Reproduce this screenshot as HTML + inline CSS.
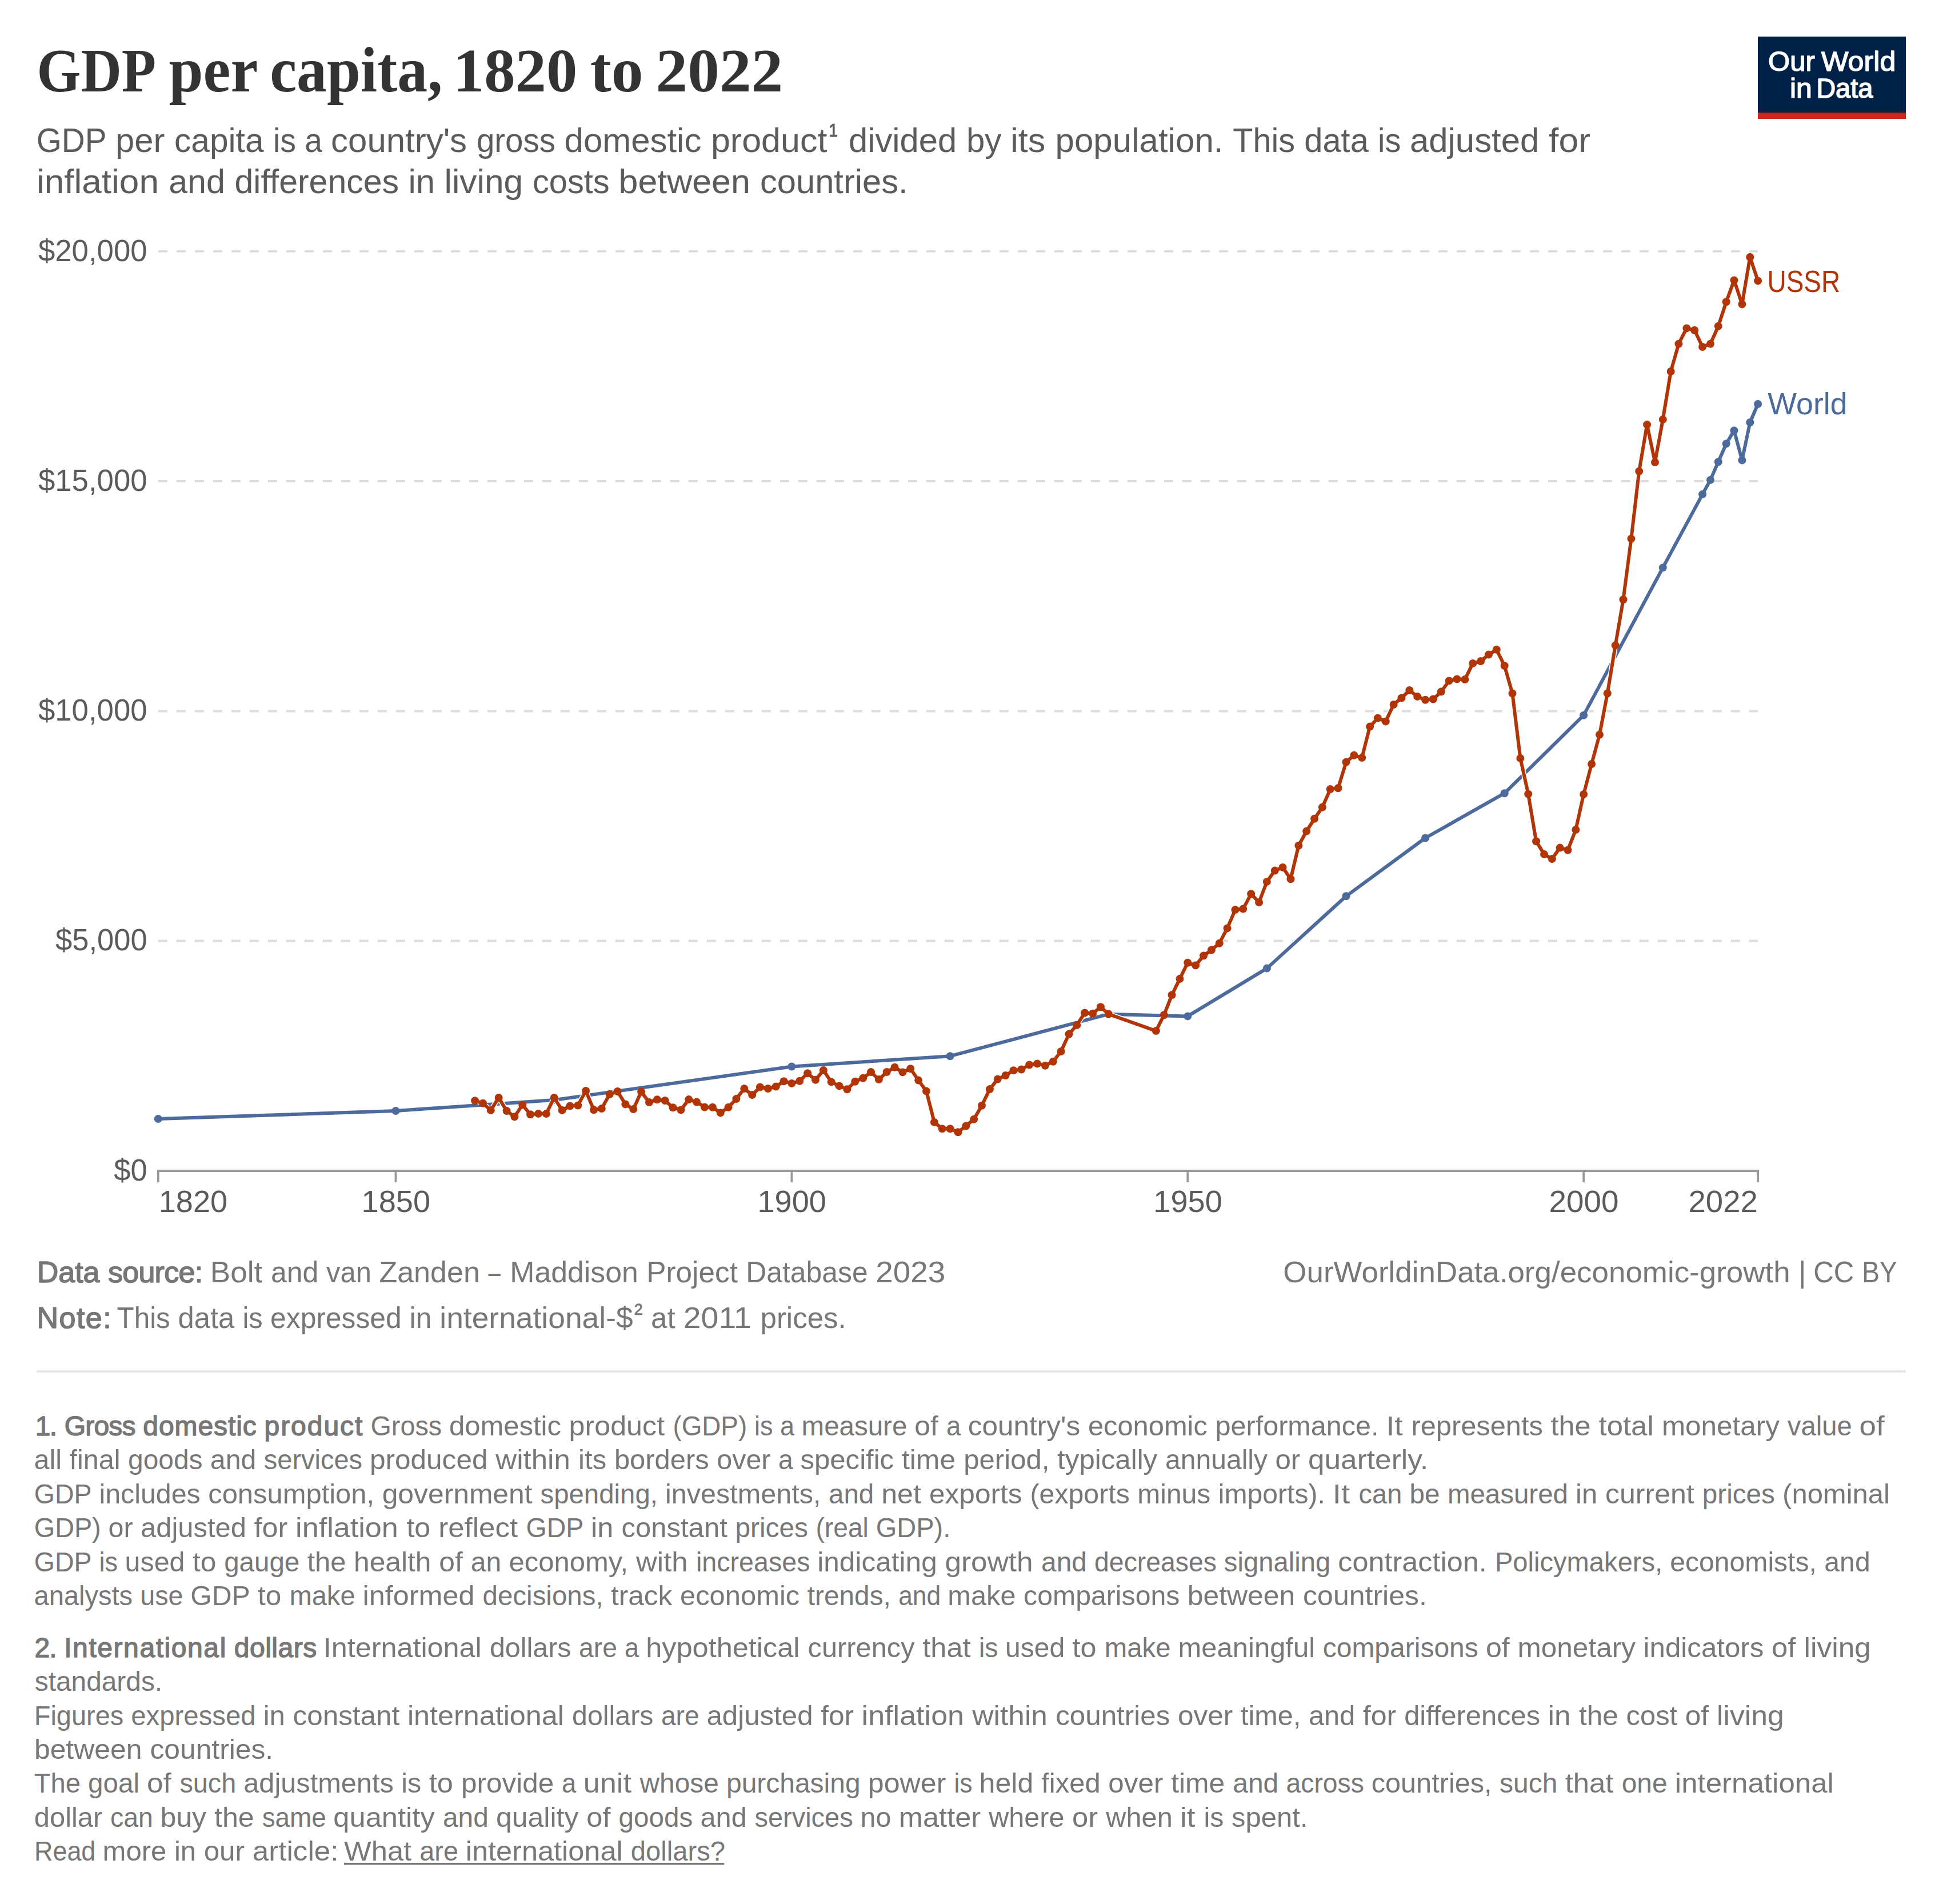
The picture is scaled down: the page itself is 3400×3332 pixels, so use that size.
<!DOCTYPE html>
<html lang="en"><head><meta charset="utf-8"><title>GDP per capita, 1820 to 2022</title>
<style>html,body{margin:0;padding:0;background:#fff}svg{display:block}text{font-family:'Liberation Sans', sans-serif;white-space:pre}text.sf{font-family:'Liberation Serif', serif}</style>
</head><body>
<svg width="3400" height="3332" viewBox="0 0 3400 3332">
<rect width="3400" height="3332" fill="#fff"/>
<text x="64.6" y="160.3" font-size="107" fill="#333" class="sf" textLength="208.5" lengthAdjust="spacingAndGlyphs" font-weight="bold">GDP</text>
<text x="295.6" y="160.3" font-size="113" fill="#333" class="sf" textLength="155.7" lengthAdjust="spacingAndGlyphs" font-weight="bold">per</text>
<text x="472.2" y="160.3" font-size="113" fill="#333" class="sf" textLength="302.3" lengthAdjust="spacingAndGlyphs" font-weight="bold">capita,</text>
<text x="792.9" y="160.3" font-size="107" fill="#333" class="sf" textLength="217.4" lengthAdjust="spacingAndGlyphs" font-weight="bold">1820</text>
<text x="1032.7" y="160.3" font-size="113" fill="#333" class="sf" textLength="92.9" lengthAdjust="spacingAndGlyphs" font-weight="bold">to</text>
<text x="1147.6" y="160.3" font-size="107" fill="#333" class="sf" textLength="222.6" lengthAdjust="spacingAndGlyphs" font-weight="bold">2022</text>
<text x="63.8" y="265.8" font-size="60" fill="#5b5b5b" textLength="122.8" lengthAdjust="spacingAndGlyphs">GDP</text>
<text x="202.1" y="265.8" font-size="60" fill="#5b5b5b" textLength="86.2" lengthAdjust="spacingAndGlyphs">per</text>
<text x="305.0" y="265.8" font-size="60" fill="#5b5b5b" textLength="156.5" lengthAdjust="spacingAndGlyphs">capita</text>
<text x="478.0" y="265.8" font-size="60" fill="#5b5b5b" textLength="39.9" lengthAdjust="spacingAndGlyphs">is</text>
<text x="533.2" y="265.8" font-size="60" fill="#5b5b5b" textLength="30.7" lengthAdjust="spacingAndGlyphs">a</text>
<text x="579.1" y="265.8" font-size="60" fill="#5b5b5b" textLength="238.0" lengthAdjust="spacingAndGlyphs">country's</text>
<text x="833.9" y="265.8" font-size="60" fill="#5b5b5b" textLength="138.1" lengthAdjust="spacingAndGlyphs">gross</text>
<text x="987.6" y="265.8" font-size="60" fill="#5b5b5b" textLength="239.8" lengthAdjust="spacingAndGlyphs">domestic</text>
<text x="1243.9" y="265.8" font-size="60" fill="#5b5b5b" textLength="203.6" lengthAdjust="spacingAndGlyphs">product</text>
<text x="1451.1" y="253.8" font-size="53" fill="#5b5b5b" textLength="14.8" lengthAdjust="spacingAndGlyphs" stroke="#5b5b5b" stroke-width="0.8">¹</text>
<text x="1484.9" y="265.8" font-size="60" fill="#5b5b5b" textLength="189.4" lengthAdjust="spacingAndGlyphs">divided</text>
<text x="1691.0" y="265.8" font-size="60" fill="#5b5b5b" textLength="61.4" lengthAdjust="spacingAndGlyphs">by</text>
<text x="1768.3" y="265.8" font-size="60" fill="#5b5b5b" textLength="61.1" lengthAdjust="spacingAndGlyphs">its</text>
<text x="1846.5" y="265.8" font-size="60" fill="#5b5b5b" textLength="294.0" lengthAdjust="spacingAndGlyphs">population.</text>
<text x="2157.2" y="265.8" font-size="60" fill="#5b5b5b" textLength="108.9" lengthAdjust="spacingAndGlyphs">This</text>
<text x="2282.2" y="265.8" font-size="60" fill="#5b5b5b" textLength="112.7" lengthAdjust="spacingAndGlyphs">data</text>
<text x="2411.1" y="265.8" font-size="60" fill="#5b5b5b" textLength="40.4" lengthAdjust="spacingAndGlyphs">is</text>
<text x="2466.9" y="265.8" font-size="60" fill="#5b5b5b" textLength="226.5" lengthAdjust="spacingAndGlyphs">adjusted</text>
<text x="2710.1" y="265.8" font-size="60" fill="#5b5b5b" textLength="72.9" lengthAdjust="spacingAndGlyphs">for</text>
<text x="64.0" y="337.5" font-size="60" fill="#5b5b5b" textLength="213.9" lengthAdjust="spacingAndGlyphs">inflation</text>
<text x="295.2" y="337.5" font-size="60" fill="#5b5b5b" textLength="98.8" lengthAdjust="spacingAndGlyphs">and</text>
<text x="410.5" y="337.5" font-size="60" fill="#5b5b5b" textLength="287.5" lengthAdjust="spacingAndGlyphs">differences</text>
<text x="714.4" y="337.5" font-size="60" fill="#5b5b5b" textLength="46.5" lengthAdjust="spacingAndGlyphs">in</text>
<text x="777.5" y="337.5" font-size="60" fill="#5b5b5b" textLength="137.5" lengthAdjust="spacingAndGlyphs">living</text>
<text x="931.9" y="337.5" font-size="60" fill="#5b5b5b" textLength="134.8" lengthAdjust="spacingAndGlyphs">costs</text>
<text x="1082.5" y="337.5" font-size="60" fill="#5b5b5b" textLength="230.4" lengthAdjust="spacingAndGlyphs">between</text>
<text x="1329.9" y="337.5" font-size="60" fill="#5b5b5b" textLength="258.8" lengthAdjust="spacingAndGlyphs">countries.</text>
<rect x="3076" y="64" width="259" height="144" fill="#002147"/>
<rect x="3076" y="197" width="259" height="11" fill="#CE261E"/>
<text x="3094.1" y="124.0" font-size="49" fill="#fff" textLength="81.8" lengthAdjust="spacingAndGlyphs" stroke="#fff" stroke-width="1.47" stroke-linejoin="round">Our</text>
<text x="3187.0" y="124.0" font-size="49" fill="#fff" textLength="130.5" lengthAdjust="spacingAndGlyphs" stroke="#fff" stroke-width="1.47" stroke-linejoin="round">World</text>
<text x="3131.9" y="171.0" font-size="49" fill="#fff" textLength="38.9" lengthAdjust="spacingAndGlyphs" stroke="#fff" stroke-width="1.47" stroke-linejoin="round">in</text>
<text x="3178.2" y="171.0" font-size="49" fill="#fff" textLength="99.2" lengthAdjust="spacingAndGlyphs" stroke="#fff" stroke-width="1.47" stroke-linejoin="round">Data</text>
<line x1="276.8" y1="439.8" x2="3076" y2="439.8" stroke="#ddd" stroke-width="4" stroke-dasharray="16 16"/>
<line x1="276.8" y1="842.1" x2="3076" y2="842.1" stroke="#ddd" stroke-width="4" stroke-dasharray="16 16"/>
<line x1="276.8" y1="1244.4" x2="3076" y2="1244.4" stroke="#ddd" stroke-width="4" stroke-dasharray="16 16"/>
<line x1="276.8" y1="1646.6" x2="3076" y2="1646.6" stroke="#ddd" stroke-width="4" stroke-dasharray="16 16"/>
<path d="M275 2049H3078.1" stroke="#999" stroke-width="4" fill="none"/>
<line x1="276.8" y1="2047" x2="276.8" y2="2068.8" stroke="#999" stroke-width="3.8"/>
<line x1="692.5" y1="2047" x2="692.5" y2="2068.8" stroke="#999" stroke-width="3.8"/>
<line x1="1385.4" y1="2047" x2="1385.4" y2="2068.8" stroke="#999" stroke-width="3.8"/>
<line x1="2078.3" y1="2047" x2="2078.3" y2="2068.8" stroke="#999" stroke-width="3.8"/>
<line x1="2771.2" y1="2047" x2="2771.2" y2="2068.8" stroke="#999" stroke-width="3.8"/>
<line x1="3076.1" y1="2047" x2="3076.1" y2="2068.8" stroke="#999" stroke-width="3.8"/>
<text x="66.9" y="456.6" font-size="53" fill="#5b5b5b" textLength="190.7" lengthAdjust="spacingAndGlyphs">$20,000</text>
<text x="66.9" y="858.9" font-size="53" fill="#5b5b5b" textLength="190.7" lengthAdjust="spacingAndGlyphs">$15,000</text>
<text x="66.9" y="1261.2" font-size="53" fill="#5b5b5b" textLength="190.7" lengthAdjust="spacingAndGlyphs">$10,000</text>
<text x="97.0" y="1663.4" font-size="53" fill="#5b5b5b" textLength="160.6" lengthAdjust="spacingAndGlyphs">$5,000</text>
<text x="199.3" y="2065.8" font-size="53" fill="#5b5b5b" textLength="58.3" lengthAdjust="spacingAndGlyphs">$0</text>
<text x="277.8" y="2120.9" font-size="53" fill="#5b5b5b" textLength="120.3" lengthAdjust="spacingAndGlyphs">1820</text>
<text x="632.5" y="2120.9" font-size="53" fill="#5b5b5b" textLength="120.6" lengthAdjust="spacingAndGlyphs">1850</text>
<text x="1325.4" y="2120.9" font-size="53" fill="#5b5b5b" textLength="120.6" lengthAdjust="spacingAndGlyphs">1900</text>
<text x="2018.3" y="2120.9" font-size="53" fill="#5b5b5b" textLength="120.6" lengthAdjust="spacingAndGlyphs">1950</text>
<text x="2710.4" y="2120.9" font-size="53" fill="#5b5b5b" textLength="122.0" lengthAdjust="spacingAndGlyphs">2000</text>
<text x="2954.5" y="2120.9" font-size="53" fill="#5b5b5b" textLength="121.3" lengthAdjust="spacingAndGlyphs">2022</text>
<polyline points="276.8,1958.0 692.5,1944.0 969.7,1925.0 1385.4,1866.5 1662.6,1848.2 1939.8,1774.7 2078.3,1778.4 2216.9,1694.6 2355.5,1568.3 2494.1,1466.5 2632.7,1388.2 2771.2,1251.7 2909.8,993.4 2979.1,865.1 2993.0,839.9 3006.8,808.3 3020.7,776.5 3034.5,753.4 3048.4,805.4 3062.3,739.3 3076.1,707.0" fill="none" stroke="#fff" stroke-width="9" stroke-linejoin="round" stroke-linecap="round"/>
<polyline points="276.8,1958.0 692.5,1944.0 969.7,1925.0 1385.4,1866.5 1662.6,1848.2 1939.8,1774.7 2078.3,1778.4 2216.9,1694.6 2355.5,1568.3 2494.1,1466.5 2632.7,1388.2 2771.2,1251.7 2909.8,993.4 2979.1,865.1 2993.0,839.9 3006.8,808.3 3020.7,776.5 3034.5,753.4 3048.4,805.4 3062.3,739.3 3076.1,707.0" fill="none" stroke="#4C6A9C" stroke-width="6" stroke-linejoin="round" stroke-linecap="round"/>
<g fill="#4C6A9C"><circle cx="276.8" cy="1958.0" r="7"/><circle cx="692.5" cy="1944.0" r="7"/><circle cx="969.7" cy="1925.0" r="7"/><circle cx="1385.4" cy="1866.5" r="7"/><circle cx="1662.6" cy="1848.2" r="7"/><circle cx="1939.8" cy="1774.7" r="7"/><circle cx="2078.3" cy="1778.4" r="7"/><circle cx="2216.9" cy="1694.6" r="7"/><circle cx="2355.5" cy="1568.3" r="7"/><circle cx="2494.1" cy="1466.5" r="7"/><circle cx="2632.7" cy="1388.2" r="7"/><circle cx="2771.2" cy="1251.7" r="7"/><circle cx="2909.8" cy="993.4" r="7"/><circle cx="2979.1" cy="865.1" r="7"/><circle cx="2993.0" cy="839.9" r="7"/><circle cx="3006.8" cy="808.3" r="7"/><circle cx="3020.7" cy="776.5" r="7"/><circle cx="3034.5" cy="753.4" r="7"/><circle cx="3048.4" cy="805.4" r="7"/><circle cx="3062.3" cy="739.3" r="7"/><circle cx="3076.1" cy="707.0" r="7"/></g>
<polyline points="831.1,1926.2 845.0,1930.8 858.8,1942.9 872.7,1920.9 886.6,1944.1 900.4,1954.2 914.3,1933.4 928.1,1950.3 942.0,1948.9 955.8,1949.1 969.7,1920.9 983.6,1942.9 997.4,1935.5 1011.3,1934.5 1025.1,1908.9 1039.0,1942.3 1052.8,1940.0 1066.7,1915.1 1080.6,1910.0 1094.4,1932.4 1108.3,1941.0 1122.1,1910.6 1136.0,1929.1 1149.9,1924.2 1163.7,1926.0 1177.6,1938.2 1191.4,1942.4 1205.3,1924.1 1219.1,1928.6 1233.0,1937.5 1246.9,1937.7 1260.7,1947.4 1274.6,1937.7 1288.4,1923.1 1302.3,1905.0 1316.2,1916.1 1330.0,1902.5 1343.9,1905.0 1357.7,1901.5 1371.6,1892.2 1385.4,1895.9 1399.3,1891.8 1413.2,1878.2 1427.0,1889.7 1440.9,1873.1 1454.7,1893.4 1468.6,1900.4 1482.4,1906.2 1496.3,1892.8 1510.2,1886.8 1524.0,1876.1 1537.9,1889.1 1551.7,1876.1 1565.6,1867.8 1579.5,1876.4 1593.3,1870.3 1607.2,1890.6 1621.0,1909.6 1634.9,1963.9 1648.7,1975.2 1662.6,1975.2 1676.5,1981.2 1690.3,1970.5 1704.2,1958.8 1718.0,1934.7 1731.9,1906.1 1745.7,1888.6 1759.6,1882.0 1773.5,1873.3 1787.3,1871.5 1801.2,1863.5 1815.0,1861.4 1828.9,1864.7 1842.8,1857.7 1856.6,1840.0 1870.5,1809.7 1884.3,1793.9 1898.2,1772.5 1912.0,1773.7 1925.9,1762.3 1939.8,1774.6 2022.9,1804.1 2036.8,1776.3 2050.6,1741.3 2064.5,1712.9 2078.3,1684.7 2092.2,1689.4 2106.1,1672.5 2119.9,1662.5 2133.8,1650.7 2147.6,1624.4 2161.5,1592.1 2175.3,1590.6 2189.2,1564.3 2203.1,1579.0 2216.9,1542.9 2230.8,1523.6 2244.6,1517.9 2258.5,1538.2 2272.4,1479.8 2286.2,1454.6 2300.1,1432.8 2313.9,1412.8 2327.8,1381.1 2341.6,1379.2 2355.5,1333.8 2369.4,1321.8 2383.2,1326.1 2397.1,1271.6 2410.9,1256.7 2424.8,1262.4 2438.6,1233.0 2452.5,1221.4 2466.4,1208.0 2480.2,1218.9 2494.1,1224.8 2507.9,1223.5 2521.8,1210.6 2535.7,1191.4 2549.5,1188.4 2563.4,1189.1 2577.2,1160.9 2591.1,1157.1 2604.9,1145.6 2618.8,1136.8 2632.7,1165.1 2646.5,1213.4 2660.4,1326.9 2674.2,1389.5 2688.1,1472.2 2702.0,1494.9 2715.8,1503.1 2729.7,1483.6 2743.5,1487.7 2757.4,1452.0 2771.2,1389.9 2785.1,1337.0 2799.0,1285.7 2812.8,1213.4 2826.7,1129.4 2840.5,1049.3 2854.4,942.8 2868.2,824.7 2882.1,743.1 2896.0,809.0 2909.8,734.1 2923.7,650.0 2937.5,601.7 2951.4,574.4 2965.3,578.0 2979.1,607.0 2993.0,601.7 3006.8,570.8 3020.7,528.2 3034.5,490.4 3048.4,532.4 3062.3,450.0 3076.1,491.4" fill="none" stroke="#fff" stroke-width="9" stroke-linejoin="round" stroke-linecap="round"/>
<polyline points="831.1,1926.2 845.0,1930.8 858.8,1942.9 872.7,1920.9 886.6,1944.1 900.4,1954.2 914.3,1933.4 928.1,1950.3 942.0,1948.9 955.8,1949.1 969.7,1920.9 983.6,1942.9 997.4,1935.5 1011.3,1934.5 1025.1,1908.9 1039.0,1942.3 1052.8,1940.0 1066.7,1915.1 1080.6,1910.0 1094.4,1932.4 1108.3,1941.0 1122.1,1910.6 1136.0,1929.1 1149.9,1924.2 1163.7,1926.0 1177.6,1938.2 1191.4,1942.4 1205.3,1924.1 1219.1,1928.6 1233.0,1937.5 1246.9,1937.7 1260.7,1947.4 1274.6,1937.7 1288.4,1923.1 1302.3,1905.0 1316.2,1916.1 1330.0,1902.5 1343.9,1905.0 1357.7,1901.5 1371.6,1892.2 1385.4,1895.9 1399.3,1891.8 1413.2,1878.2 1427.0,1889.7 1440.9,1873.1 1454.7,1893.4 1468.6,1900.4 1482.4,1906.2 1496.3,1892.8 1510.2,1886.8 1524.0,1876.1 1537.9,1889.1 1551.7,1876.1 1565.6,1867.8 1579.5,1876.4 1593.3,1870.3 1607.2,1890.6 1621.0,1909.6 1634.9,1963.9 1648.7,1975.2 1662.6,1975.2 1676.5,1981.2 1690.3,1970.5 1704.2,1958.8 1718.0,1934.7 1731.9,1906.1 1745.7,1888.6 1759.6,1882.0 1773.5,1873.3 1787.3,1871.5 1801.2,1863.5 1815.0,1861.4 1828.9,1864.7 1842.8,1857.7 1856.6,1840.0 1870.5,1809.7 1884.3,1793.9 1898.2,1772.5 1912.0,1773.7 1925.9,1762.3 1939.8,1774.6 2022.9,1804.1 2036.8,1776.3 2050.6,1741.3 2064.5,1712.9 2078.3,1684.7 2092.2,1689.4 2106.1,1672.5 2119.9,1662.5 2133.8,1650.7 2147.6,1624.4 2161.5,1592.1 2175.3,1590.6 2189.2,1564.3 2203.1,1579.0 2216.9,1542.9 2230.8,1523.6 2244.6,1517.9 2258.5,1538.2 2272.4,1479.8 2286.2,1454.6 2300.1,1432.8 2313.9,1412.8 2327.8,1381.1 2341.6,1379.2 2355.5,1333.8 2369.4,1321.8 2383.2,1326.1 2397.1,1271.6 2410.9,1256.7 2424.8,1262.4 2438.6,1233.0 2452.5,1221.4 2466.4,1208.0 2480.2,1218.9 2494.1,1224.8 2507.9,1223.5 2521.8,1210.6 2535.7,1191.4 2549.5,1188.4 2563.4,1189.1 2577.2,1160.9 2591.1,1157.1 2604.9,1145.6 2618.8,1136.8 2632.7,1165.1 2646.5,1213.4 2660.4,1326.9 2674.2,1389.5 2688.1,1472.2 2702.0,1494.9 2715.8,1503.1 2729.7,1483.6 2743.5,1487.7 2757.4,1452.0 2771.2,1389.9 2785.1,1337.0 2799.0,1285.7 2812.8,1213.4 2826.7,1129.4 2840.5,1049.3 2854.4,942.8 2868.2,824.7 2882.1,743.1 2896.0,809.0 2909.8,734.1 2923.7,650.0 2937.5,601.7 2951.4,574.4 2965.3,578.0 2979.1,607.0 2993.0,601.7 3006.8,570.8 3020.7,528.2 3034.5,490.4 3048.4,532.4 3062.3,450.0 3076.1,491.4" fill="none" stroke="#B13507" stroke-width="6" stroke-linejoin="round" stroke-linecap="round"/>
<g fill="#B13507"><circle cx="831.1" cy="1926.2" r="7"/><circle cx="845.0" cy="1930.8" r="7"/><circle cx="858.8" cy="1942.9" r="7"/><circle cx="872.7" cy="1920.9" r="7"/><circle cx="886.6" cy="1944.1" r="7"/><circle cx="900.4" cy="1954.2" r="7"/><circle cx="914.3" cy="1933.4" r="7"/><circle cx="928.1" cy="1950.3" r="7"/><circle cx="942.0" cy="1948.9" r="7"/><circle cx="955.8" cy="1949.1" r="7"/><circle cx="969.7" cy="1920.9" r="7"/><circle cx="983.6" cy="1942.9" r="7"/><circle cx="997.4" cy="1935.5" r="7"/><circle cx="1011.3" cy="1934.5" r="7"/><circle cx="1025.1" cy="1908.9" r="7"/><circle cx="1039.0" cy="1942.3" r="7"/><circle cx="1052.8" cy="1940.0" r="7"/><circle cx="1066.7" cy="1915.1" r="7"/><circle cx="1080.6" cy="1910.0" r="7"/><circle cx="1094.4" cy="1932.4" r="7"/><circle cx="1108.3" cy="1941.0" r="7"/><circle cx="1122.1" cy="1910.6" r="7"/><circle cx="1136.0" cy="1929.1" r="7"/><circle cx="1149.9" cy="1924.2" r="7"/><circle cx="1163.7" cy="1926.0" r="7"/><circle cx="1177.6" cy="1938.2" r="7"/><circle cx="1191.4" cy="1942.4" r="7"/><circle cx="1205.3" cy="1924.1" r="7"/><circle cx="1219.1" cy="1928.6" r="7"/><circle cx="1233.0" cy="1937.5" r="7"/><circle cx="1246.9" cy="1937.7" r="7"/><circle cx="1260.7" cy="1947.4" r="7"/><circle cx="1274.6" cy="1937.7" r="7"/><circle cx="1288.4" cy="1923.1" r="7"/><circle cx="1302.3" cy="1905.0" r="7"/><circle cx="1316.2" cy="1916.1" r="7"/><circle cx="1330.0" cy="1902.5" r="7"/><circle cx="1343.9" cy="1905.0" r="7"/><circle cx="1357.7" cy="1901.5" r="7"/><circle cx="1371.6" cy="1892.2" r="7"/><circle cx="1385.4" cy="1895.9" r="7"/><circle cx="1399.3" cy="1891.8" r="7"/><circle cx="1413.2" cy="1878.2" r="7"/><circle cx="1427.0" cy="1889.7" r="7"/><circle cx="1440.9" cy="1873.1" r="7"/><circle cx="1454.7" cy="1893.4" r="7"/><circle cx="1468.6" cy="1900.4" r="7"/><circle cx="1482.4" cy="1906.2" r="7"/><circle cx="1496.3" cy="1892.8" r="7"/><circle cx="1510.2" cy="1886.8" r="7"/><circle cx="1524.0" cy="1876.1" r="7"/><circle cx="1537.9" cy="1889.1" r="7"/><circle cx="1551.7" cy="1876.1" r="7"/><circle cx="1565.6" cy="1867.8" r="7"/><circle cx="1579.5" cy="1876.4" r="7"/><circle cx="1593.3" cy="1870.3" r="7"/><circle cx="1607.2" cy="1890.6" r="7"/><circle cx="1621.0" cy="1909.6" r="7"/><circle cx="1634.9" cy="1963.9" r="7"/><circle cx="1648.7" cy="1975.2" r="7"/><circle cx="1662.6" cy="1975.2" r="7"/><circle cx="1676.5" cy="1981.2" r="7"/><circle cx="1690.3" cy="1970.5" r="7"/><circle cx="1704.2" cy="1958.8" r="7"/><circle cx="1718.0" cy="1934.7" r="7"/><circle cx="1731.9" cy="1906.1" r="7"/><circle cx="1745.7" cy="1888.6" r="7"/><circle cx="1759.6" cy="1882.0" r="7"/><circle cx="1773.5" cy="1873.3" r="7"/><circle cx="1787.3" cy="1871.5" r="7"/><circle cx="1801.2" cy="1863.5" r="7"/><circle cx="1815.0" cy="1861.4" r="7"/><circle cx="1828.9" cy="1864.7" r="7"/><circle cx="1842.8" cy="1857.7" r="7"/><circle cx="1856.6" cy="1840.0" r="7"/><circle cx="1870.5" cy="1809.7" r="7"/><circle cx="1884.3" cy="1793.9" r="7"/><circle cx="1898.2" cy="1772.5" r="7"/><circle cx="1912.0" cy="1773.7" r="7"/><circle cx="1925.9" cy="1762.3" r="7"/><circle cx="1939.8" cy="1774.6" r="7"/><circle cx="2022.9" cy="1804.1" r="7"/><circle cx="2036.8" cy="1776.3" r="7"/><circle cx="2050.6" cy="1741.3" r="7"/><circle cx="2064.5" cy="1712.9" r="7"/><circle cx="2078.3" cy="1684.7" r="7"/><circle cx="2092.2" cy="1689.4" r="7"/><circle cx="2106.1" cy="1672.5" r="7"/><circle cx="2119.9" cy="1662.5" r="7"/><circle cx="2133.8" cy="1650.7" r="7"/><circle cx="2147.6" cy="1624.4" r="7"/><circle cx="2161.5" cy="1592.1" r="7"/><circle cx="2175.3" cy="1590.6" r="7"/><circle cx="2189.2" cy="1564.3" r="7"/><circle cx="2203.1" cy="1579.0" r="7"/><circle cx="2216.9" cy="1542.9" r="7"/><circle cx="2230.8" cy="1523.6" r="7"/><circle cx="2244.6" cy="1517.9" r="7"/><circle cx="2258.5" cy="1538.2" r="7"/><circle cx="2272.4" cy="1479.8" r="7"/><circle cx="2286.2" cy="1454.6" r="7"/><circle cx="2300.1" cy="1432.8" r="7"/><circle cx="2313.9" cy="1412.8" r="7"/><circle cx="2327.8" cy="1381.1" r="7"/><circle cx="2341.6" cy="1379.2" r="7"/><circle cx="2355.5" cy="1333.8" r="7"/><circle cx="2369.4" cy="1321.8" r="7"/><circle cx="2383.2" cy="1326.1" r="7"/><circle cx="2397.1" cy="1271.6" r="7"/><circle cx="2410.9" cy="1256.7" r="7"/><circle cx="2424.8" cy="1262.4" r="7"/><circle cx="2438.6" cy="1233.0" r="7"/><circle cx="2452.5" cy="1221.4" r="7"/><circle cx="2466.4" cy="1208.0" r="7"/><circle cx="2480.2" cy="1218.9" r="7"/><circle cx="2494.1" cy="1224.8" r="7"/><circle cx="2507.9" cy="1223.5" r="7"/><circle cx="2521.8" cy="1210.6" r="7"/><circle cx="2535.7" cy="1191.4" r="7"/><circle cx="2549.5" cy="1188.4" r="7"/><circle cx="2563.4" cy="1189.1" r="7"/><circle cx="2577.2" cy="1160.9" r="7"/><circle cx="2591.1" cy="1157.1" r="7"/><circle cx="2604.9" cy="1145.6" r="7"/><circle cx="2618.8" cy="1136.8" r="7"/><circle cx="2632.7" cy="1165.1" r="7"/><circle cx="2646.5" cy="1213.4" r="7"/><circle cx="2660.4" cy="1326.9" r="7"/><circle cx="2674.2" cy="1389.5" r="7"/><circle cx="2688.1" cy="1472.2" r="7"/><circle cx="2702.0" cy="1494.9" r="7"/><circle cx="2715.8" cy="1503.1" r="7"/><circle cx="2729.7" cy="1483.6" r="7"/><circle cx="2743.5" cy="1487.7" r="7"/><circle cx="2757.4" cy="1452.0" r="7"/><circle cx="2771.2" cy="1389.9" r="7"/><circle cx="2785.1" cy="1337.0" r="7"/><circle cx="2799.0" cy="1285.7" r="7"/><circle cx="2812.8" cy="1213.4" r="7"/><circle cx="2826.7" cy="1129.4" r="7"/><circle cx="2840.5" cy="1049.3" r="7"/><circle cx="2854.4" cy="942.8" r="7"/><circle cx="2868.2" cy="824.7" r="7"/><circle cx="2882.1" cy="743.1" r="7"/><circle cx="2896.0" cy="809.0" r="7"/><circle cx="2909.8" cy="734.1" r="7"/><circle cx="2923.7" cy="650.0" r="7"/><circle cx="2937.5" cy="601.7" r="7"/><circle cx="2951.4" cy="574.4" r="7"/><circle cx="2965.3" cy="578.0" r="7"/><circle cx="2979.1" cy="607.0" r="7"/><circle cx="2993.0" cy="601.7" r="7"/><circle cx="3006.8" cy="570.8" r="7"/><circle cx="3020.7" cy="528.2" r="7"/><circle cx="3034.5" cy="490.4" r="7"/><circle cx="3048.4" cy="532.4" r="7"/><circle cx="3062.3" cy="450.0" r="7"/><circle cx="3076.1" cy="491.4" r="7"/></g>
<text x="3092.4" y="510.5" font-size="53" fill="#B13507" textLength="127.9" lengthAdjust="spacingAndGlyphs">USSR</text>
<text x="3093.3" y="725.3" font-size="53" fill="#4C6A9C" textLength="139.4" lengthAdjust="spacingAndGlyphs">World</text>
<text x="64.7" y="2243.7" font-size="52" fill="#777" textLength="109.8" lengthAdjust="spacing" stroke="#777" stroke-width="1.56" stroke-linejoin="round">Data</text>
<text x="189.0" y="2243.7" font-size="52" fill="#777" textLength="166.1" lengthAdjust="spacing" stroke="#777" stroke-width="1.56" stroke-linejoin="round">source:</text>
<text x="367.8" y="2243.7" font-size="52" fill="#777" textLength="91.4" lengthAdjust="spacingAndGlyphs">Bolt</text>
<text x="474.0" y="2243.7" font-size="52" fill="#777" textLength="83.2" lengthAdjust="spacingAndGlyphs">and</text>
<text x="571.1" y="2243.7" font-size="52" fill="#777" textLength="78.8" lengthAdjust="spacingAndGlyphs">van</text>
<text x="663.4" y="2243.7" font-size="52" fill="#777" textLength="176.5" lengthAdjust="spacingAndGlyphs">Zanden</text>
<text x="854.4" y="2243.7" font-size="52" fill="#777" textLength="21.5" lengthAdjust="spacingAndGlyphs">–</text>
<text x="892.3" y="2243.7" font-size="52" fill="#777" textLength="224.5" lengthAdjust="spacingAndGlyphs">Maddison</text>
<text x="1131.2" y="2243.7" font-size="52" fill="#777" textLength="159.7" lengthAdjust="spacingAndGlyphs">Project</text>
<text x="1305.3" y="2243.7" font-size="52" fill="#777" textLength="213.3" lengthAdjust="spacingAndGlyphs">Database</text>
<text x="1532.3" y="2243.7" font-size="52" fill="#777" textLength="122.0" lengthAdjust="spacingAndGlyphs">2023</text>
<text x="64.5" y="2324.0" font-size="52" fill="#777" textLength="130.1" lengthAdjust="spacing" stroke="#777" stroke-width="1.56" stroke-linejoin="round">Note:</text>
<text x="204.5" y="2324.0" font-size="52" fill="#777" textLength="93.3" lengthAdjust="spacingAndGlyphs">This</text>
<text x="311.5" y="2324.0" font-size="52" fill="#777" textLength="98.7" lengthAdjust="spacingAndGlyphs">data</text>
<text x="424.4" y="2324.0" font-size="52" fill="#777" textLength="35.2" lengthAdjust="spacingAndGlyphs">is</text>
<text x="473.1" y="2324.0" font-size="52" fill="#777" textLength="229.5" lengthAdjust="spacingAndGlyphs">expressed</text>
<text x="716.4" y="2324.0" font-size="52" fill="#777" textLength="39.1" lengthAdjust="spacingAndGlyphs">in</text>
<text x="769.3" y="2324.0" font-size="52" fill="#777" textLength="338.3" lengthAdjust="spacingAndGlyphs">international-$</text>
<text x="1110.0" y="2313.6" font-size="46.5" fill="#777" textLength="14.3" lengthAdjust="spacingAndGlyphs" stroke="#777" stroke-width="0.5">²</text>
<text x="1139.0" y="2324.0" font-size="52" fill="#777" textLength="42.7" lengthAdjust="spacingAndGlyphs">at</text>
<text x="1195.8" y="2324.0" font-size="52" fill="#777" textLength="119.1" lengthAdjust="spacingAndGlyphs">2011</text>
<text x="1330.5" y="2324.0" font-size="52" fill="#777" textLength="150.3" lengthAdjust="spacingAndGlyphs">prices.</text>
<text x="2245.3" y="2243.7" font-size="52" fill="#777" textLength="887.3" lengthAdjust="spacingAndGlyphs">OurWorldinData.org/economic-growth</text>
<text x="3147.7" y="2243.7" font-size="52" fill="#777" textLength="12.4" lengthAdjust="spacingAndGlyphs">|</text>
<text x="3173.3" y="2243.7" font-size="52" fill="#777" textLength="71.0" lengthAdjust="spacingAndGlyphs">CC</text>
<text x="3258.2" y="2243.7" font-size="52" fill="#777" textLength="61.4" lengthAdjust="spacingAndGlyphs">BY</text>
<rect x="64" y="2398" width="3271" height="4" fill="#e7e7e7"/>
<text x="61.8" y="2511.9" font-size="48" fill="#777" textLength="38.3" lengthAdjust="spacing" stroke="#777" stroke-width="1.44" stroke-linejoin="round">1.</text>
<text x="112.8" y="2511.9" font-size="48" fill="#777" textLength="124.7" lengthAdjust="spacing" stroke="#777" stroke-width="1.44" stroke-linejoin="round">Gross</text>
<text x="250.3" y="2511.9" font-size="48" fill="#777" textLength="198.5" lengthAdjust="spacing" stroke="#777" stroke-width="1.44" stroke-linejoin="round">domestic</text>
<text x="462.5" y="2511.9" font-size="48" fill="#777" textLength="171.9" lengthAdjust="spacing" stroke="#777" stroke-width="1.44" stroke-linejoin="round">product</text>
<text x="648.5" y="2511.9" font-size="48" fill="#777" textLength="124.7" lengthAdjust="spacingAndGlyphs">Gross</text>
<text x="786.0" y="2511.9" font-size="48" fill="#777" textLength="196.0" lengthAdjust="spacingAndGlyphs">domestic</text>
<text x="995.6" y="2511.9" font-size="48" fill="#777" textLength="167.5" lengthAdjust="spacingAndGlyphs">product</text>
<text x="1177.4" y="2511.9" font-size="48" fill="#777" textLength="129.8" lengthAdjust="spacingAndGlyphs">(GDP)</text>
<text x="1319.9" y="2511.9" font-size="48" fill="#777" textLength="32.6" lengthAdjust="spacingAndGlyphs">is</text>
<text x="1365.1" y="2511.9" font-size="48" fill="#777" textLength="25.1" lengthAdjust="spacingAndGlyphs">a</text>
<text x="1402.6" y="2511.9" font-size="48" fill="#777" textLength="184.7" lengthAdjust="spacingAndGlyphs">measure</text>
<text x="1600.3" y="2511.9" font-size="48" fill="#777" textLength="41.6" lengthAdjust="spacingAndGlyphs">of</text>
<text x="1655.9" y="2511.9" font-size="48" fill="#777" textLength="25.3" lengthAdjust="spacingAndGlyphs">a</text>
<text x="1693.7" y="2511.9" font-size="48" fill="#777" textLength="196.5" lengthAdjust="spacingAndGlyphs">country's</text>
<text x="1903.9" y="2511.9" font-size="48" fill="#777" textLength="209.0" lengthAdjust="spacingAndGlyphs">economic</text>
<text x="2126.5" y="2511.9" font-size="48" fill="#777" textLength="286.1" lengthAdjust="spacingAndGlyphs">performance.</text>
<text x="2425.7" y="2511.9" font-size="48" fill="#777" textLength="29.0" lengthAdjust="spacingAndGlyphs">It</text>
<text x="2469.5" y="2511.9" font-size="48" fill="#777" textLength="230.4" lengthAdjust="spacingAndGlyphs">represents</text>
<text x="2713.4" y="2511.9" font-size="48" fill="#777" textLength="70.1" lengthAdjust="spacingAndGlyphs">the</text>
<text x="2797.5" y="2511.9" font-size="48" fill="#777" textLength="96.2" lengthAdjust="spacingAndGlyphs">total</text>
<text x="2907.9" y="2511.9" font-size="48" fill="#777" textLength="206.1" lengthAdjust="spacingAndGlyphs">monetary</text>
<text x="3127.8" y="2511.9" font-size="48" fill="#777" textLength="112.9" lengthAdjust="spacingAndGlyphs">value</text>
<text x="3253.6" y="2511.9" font-size="48" fill="#777" textLength="44.2" lengthAdjust="spacingAndGlyphs">of</text>
<text x="59.6" y="2571.3" font-size="48" fill="#777" textLength="48.4" lengthAdjust="spacingAndGlyphs">all</text>
<text x="121.4" y="2571.3" font-size="48" fill="#777" textLength="89.1" lengthAdjust="spacingAndGlyphs">final</text>
<text x="224.0" y="2571.3" font-size="48" fill="#777" textLength="130.5" lengthAdjust="spacingAndGlyphs">goods</text>
<text x="367.8" y="2571.3" font-size="48" fill="#777" textLength="80.6" lengthAdjust="spacingAndGlyphs">and</text>
<text x="461.8" y="2571.3" font-size="48" fill="#777" textLength="172.3" lengthAdjust="spacingAndGlyphs">services</text>
<text x="646.9" y="2571.3" font-size="48" fill="#777" textLength="206.6" lengthAdjust="spacingAndGlyphs">produced</text>
<text x="867.3" y="2571.3" font-size="48" fill="#777" textLength="130.5" lengthAdjust="spacingAndGlyphs">within</text>
<text x="1012.1" y="2571.3" font-size="48" fill="#777" textLength="49.1" lengthAdjust="spacingAndGlyphs">its</text>
<text x="1074.9" y="2571.3" font-size="48" fill="#777" textLength="165.8" lengthAdjust="spacingAndGlyphs">borders</text>
<text x="1254.3" y="2571.3" font-size="48" fill="#777" textLength="94.2" lengthAdjust="spacingAndGlyphs">over</text>
<text x="1362.0" y="2571.3" font-size="48" fill="#777" textLength="25.7" lengthAdjust="spacingAndGlyphs">a</text>
<text x="1400.4" y="2571.3" font-size="48" fill="#777" textLength="163.8" lengthAdjust="spacingAndGlyphs">specific</text>
<text x="1577.9" y="2571.3" font-size="48" fill="#777" textLength="94.3" lengthAdjust="spacingAndGlyphs">time</text>
<text x="1686.2" y="2571.3" font-size="48" fill="#777" textLength="150.3" lengthAdjust="spacingAndGlyphs">period,</text>
<text x="1850.1" y="2571.3" font-size="48" fill="#777" textLength="175.1" lengthAdjust="spacingAndGlyphs">typically</text>
<text x="2039.0" y="2571.3" font-size="48" fill="#777" textLength="179.1" lengthAdjust="spacingAndGlyphs">annually</text>
<text x="2231.4" y="2571.3" font-size="48" fill="#777" textLength="43.9" lengthAdjust="spacingAndGlyphs">or</text>
<text x="2288.9" y="2571.3" font-size="48" fill="#777" textLength="210.5" lengthAdjust="spacingAndGlyphs">quarterly.</text>
<text x="59.8" y="2630.7" font-size="48" fill="#777" textLength="100.8" lengthAdjust="spacingAndGlyphs">GDP</text>
<text x="173.4" y="2630.7" font-size="48" fill="#777" textLength="177.4" lengthAdjust="spacingAndGlyphs">includes</text>
<text x="364.2" y="2630.7" font-size="48" fill="#777" textLength="290.9" lengthAdjust="spacingAndGlyphs">consumption,</text>
<text x="668.7" y="2630.7" font-size="48" fill="#777" textLength="262.9" lengthAdjust="spacingAndGlyphs">government</text>
<text x="945.5" y="2630.7" font-size="48" fill="#777" textLength="205.4" lengthAdjust="spacingAndGlyphs">spending,</text>
<text x="1163.9" y="2630.7" font-size="48" fill="#777" textLength="272.6" lengthAdjust="spacingAndGlyphs">investments,</text>
<text x="1450.0" y="2630.7" font-size="48" fill="#777" textLength="79.2" lengthAdjust="spacingAndGlyphs">and</text>
<text x="1542.2" y="2630.7" font-size="48" fill="#777" textLength="69.8" lengthAdjust="spacingAndGlyphs">net</text>
<text x="1626.0" y="2630.7" font-size="48" fill="#777" textLength="162.6" lengthAdjust="spacingAndGlyphs">exports</text>
<text x="1802.5" y="2630.7" font-size="48" fill="#777" textLength="174.3" lengthAdjust="spacingAndGlyphs">(exports</text>
<text x="1990.2" y="2630.7" font-size="48" fill="#777" textLength="128.2" lengthAdjust="spacingAndGlyphs">minus</text>
<text x="2131.8" y="2630.7" font-size="48" fill="#777" textLength="187.1" lengthAdjust="spacingAndGlyphs">imports).</text>
<text x="2331.7" y="2630.7" font-size="48" fill="#777" textLength="30.4" lengthAdjust="spacingAndGlyphs">It</text>
<text x="2377.6" y="2630.7" font-size="48" fill="#777" textLength="75.8" lengthAdjust="spacingAndGlyphs">can</text>
<text x="2466.4" y="2630.7" font-size="48" fill="#777" textLength="53.1" lengthAdjust="spacingAndGlyphs">be</text>
<text x="2532.9" y="2630.7" font-size="48" fill="#777" textLength="211.1" lengthAdjust="spacingAndGlyphs">measured</text>
<text x="2757.1" y="2630.7" font-size="48" fill="#777" textLength="38.2" lengthAdjust="spacingAndGlyphs">in</text>
<text x="2808.9" y="2630.7" font-size="48" fill="#777" textLength="155.9" lengthAdjust="spacingAndGlyphs">current</text>
<text x="2978.8" y="2630.7" font-size="48" fill="#777" textLength="127.1" lengthAdjust="spacingAndGlyphs">prices</text>
<text x="3119.1" y="2630.7" font-size="48" fill="#777" textLength="187.8" lengthAdjust="spacingAndGlyphs">(nominal</text>
<text x="59.8" y="2690.2" font-size="48" fill="#777" textLength="116.8" lengthAdjust="spacingAndGlyphs">GDP)</text>
<text x="189.5" y="2690.2" font-size="48" fill="#777" textLength="43.1" lengthAdjust="spacingAndGlyphs">or</text>
<text x="246.0" y="2690.2" font-size="48" fill="#777" textLength="184.9" lengthAdjust="spacingAndGlyphs">adjusted</text>
<text x="444.5" y="2690.2" font-size="48" fill="#777" textLength="58.7" lengthAdjust="spacingAndGlyphs">for</text>
<text x="517.1" y="2690.2" font-size="48" fill="#777" textLength="179.8" lengthAdjust="spacingAndGlyphs">inflation</text>
<text x="711.4" y="2690.2" font-size="48" fill="#777" textLength="41.9" lengthAdjust="spacingAndGlyphs">to</text>
<text x="767.2" y="2690.2" font-size="48" fill="#777" textLength="138.9" lengthAdjust="spacingAndGlyphs">reflect</text>
<text x="920.6" y="2690.2" font-size="48" fill="#777" textLength="100.8" lengthAdjust="spacingAndGlyphs">GDP</text>
<text x="1034.1" y="2690.2" font-size="48" fill="#777" textLength="39.3" lengthAdjust="spacingAndGlyphs">in</text>
<text x="1087.4" y="2690.2" font-size="48" fill="#777" textLength="185.4" lengthAdjust="spacingAndGlyphs">constant</text>
<text x="1286.5" y="2690.2" font-size="48" fill="#777" textLength="127.5" lengthAdjust="spacingAndGlyphs">prices</text>
<text x="1427.4" y="2690.2" font-size="48" fill="#777" textLength="92.5" lengthAdjust="spacingAndGlyphs">(real</text>
<text x="1532.8" y="2690.2" font-size="48" fill="#777" textLength="130.4" lengthAdjust="spacingAndGlyphs">GDP).</text>
<text x="59.8" y="2749.6" font-size="48" fill="#777" textLength="100.8" lengthAdjust="spacingAndGlyphs">GDP</text>
<text x="173.6" y="2749.6" font-size="48" fill="#777" textLength="32.6" lengthAdjust="spacingAndGlyphs">is</text>
<text x="218.6" y="2749.6" font-size="48" fill="#777" textLength="104.9" lengthAdjust="spacingAndGlyphs">used</text>
<text x="336.9" y="2749.6" font-size="48" fill="#777" textLength="41.4" lengthAdjust="spacingAndGlyphs">to</text>
<text x="392.2" y="2749.6" font-size="48" fill="#777" textLength="132.0" lengthAdjust="spacingAndGlyphs">gauge</text>
<text x="537.4" y="2749.6" font-size="48" fill="#777" textLength="68.1" lengthAdjust="spacingAndGlyphs">the</text>
<text x="619.0" y="2749.6" font-size="48" fill="#777" textLength="135.5" lengthAdjust="spacingAndGlyphs">health</text>
<text x="768.3" y="2749.6" font-size="48" fill="#777" textLength="41.5" lengthAdjust="spacingAndGlyphs">of</text>
<text x="823.7" y="2749.6" font-size="48" fill="#777" textLength="53.4" lengthAdjust="spacingAndGlyphs">an</text>
<text x="890.4" y="2749.6" font-size="48" fill="#777" textLength="208.8" lengthAdjust="spacingAndGlyphs">economy,</text>
<text x="1112.9" y="2749.6" font-size="48" fill="#777" textLength="90.7" lengthAdjust="spacingAndGlyphs">with</text>
<text x="1218.0" y="2749.6" font-size="48" fill="#777" textLength="199.5" lengthAdjust="spacingAndGlyphs">increases</text>
<text x="1430.3" y="2749.6" font-size="48" fill="#777" textLength="209.4" lengthAdjust="spacingAndGlyphs">indicating</text>
<text x="1653.4" y="2749.6" font-size="48" fill="#777" textLength="154.2" lengthAdjust="spacingAndGlyphs">growth</text>
<text x="1822.1" y="2749.6" font-size="48" fill="#777" textLength="79.7" lengthAdjust="spacingAndGlyphs">and</text>
<text x="1915.1" y="2749.6" font-size="48" fill="#777" textLength="213.8" lengthAdjust="spacingAndGlyphs">decreases</text>
<text x="2141.8" y="2749.6" font-size="48" fill="#777" textLength="186.4" lengthAdjust="spacingAndGlyphs">signaling</text>
<text x="2341.2" y="2749.6" font-size="48" fill="#777" textLength="260.5" lengthAdjust="spacingAndGlyphs">contraction.</text>
<text x="2615.9" y="2749.6" font-size="48" fill="#777" textLength="293.3" lengthAdjust="spacingAndGlyphs">Policymakers,</text>
<text x="2922.3" y="2749.6" font-size="48" fill="#777" textLength="256.6" lengthAdjust="spacingAndGlyphs">economists,</text>
<text x="3192.3" y="2749.6" font-size="48" fill="#777" textLength="80.4" lengthAdjust="spacingAndGlyphs">and</text>
<text x="59.6" y="2809.0" font-size="48" fill="#777" textLength="172.5" lengthAdjust="spacingAndGlyphs">analysts</text>
<text x="245.2" y="2809.0" font-size="48" fill="#777" textLength="75.2" lengthAdjust="spacingAndGlyphs">use</text>
<text x="333.3" y="2809.0" font-size="48" fill="#777" textLength="104.4" lengthAdjust="spacingAndGlyphs">GDP</text>
<text x="451.1" y="2809.0" font-size="48" fill="#777" textLength="41.3" lengthAdjust="spacingAndGlyphs">to</text>
<text x="506.4" y="2809.0" font-size="48" fill="#777" textLength="115.2" lengthAdjust="spacingAndGlyphs">make</text>
<text x="634.5" y="2809.0" font-size="48" fill="#777" textLength="195.9" lengthAdjust="spacingAndGlyphs">informed</text>
<text x="844.5" y="2809.0" font-size="48" fill="#777" textLength="211.2" lengthAdjust="spacingAndGlyphs">decisions,</text>
<text x="1068.9" y="2809.0" font-size="48" fill="#777" textLength="107.4" lengthAdjust="spacingAndGlyphs">track</text>
<text x="1190.0" y="2809.0" font-size="48" fill="#777" textLength="209.2" lengthAdjust="spacingAndGlyphs">economic</text>
<text x="1412.8" y="2809.0" font-size="48" fill="#777" textLength="146.0" lengthAdjust="spacingAndGlyphs">trends,</text>
<text x="1572.2" y="2809.0" font-size="48" fill="#777" textLength="74.0" lengthAdjust="spacingAndGlyphs">and</text>
<text x="1658.3" y="2809.0" font-size="48" fill="#777" textLength="119.2" lengthAdjust="spacingAndGlyphs">make</text>
<text x="1791.1" y="2809.0" font-size="48" fill="#777" textLength="273.3" lengthAdjust="spacingAndGlyphs">comparisons</text>
<text x="2077.7" y="2809.0" font-size="48" fill="#777" textLength="188.5" lengthAdjust="spacingAndGlyphs">between</text>
<text x="2280.1" y="2809.0" font-size="48" fill="#777" textLength="216.8" lengthAdjust="spacingAndGlyphs">countries.</text>
<text x="60.5" y="2899.7" font-size="48" fill="#777" textLength="39.1" lengthAdjust="spacing" stroke="#777" stroke-width="1.44" stroke-linejoin="round">2.</text>
<text x="112.2" y="2899.7" font-size="48" fill="#777" textLength="283.1" lengthAdjust="spacing" stroke="#777" stroke-width="1.44" stroke-linejoin="round">International</text>
<text x="409.7" y="2899.7" font-size="48" fill="#777" textLength="144.5" lengthAdjust="spacing" stroke="#777" stroke-width="1.44" stroke-linejoin="round">dollars</text>
<text x="565.7" y="2899.7" font-size="48" fill="#777" textLength="277.1" lengthAdjust="spacingAndGlyphs">International</text>
<text x="856.9" y="2899.7" font-size="48" fill="#777" textLength="142.7" lengthAdjust="spacingAndGlyphs">dollars</text>
<text x="1013.1" y="2899.7" font-size="48" fill="#777" textLength="66.8" lengthAdjust="spacingAndGlyphs">are</text>
<text x="1092.9" y="2899.7" font-size="48" fill="#777" textLength="25.1" lengthAdjust="spacingAndGlyphs">a</text>
<text x="1130.2" y="2899.7" font-size="48" fill="#777" textLength="269.4" lengthAdjust="spacingAndGlyphs">hypothetical</text>
<text x="1413.6" y="2899.7" font-size="48" fill="#777" textLength="187.0" lengthAdjust="spacingAndGlyphs">currency</text>
<text x="1614.2" y="2899.7" font-size="48" fill="#777" textLength="84.4" lengthAdjust="spacingAndGlyphs">that</text>
<text x="1712.9" y="2899.7" font-size="48" fill="#777" textLength="33.4" lengthAdjust="spacingAndGlyphs">is</text>
<text x="1759.1" y="2899.7" font-size="48" fill="#777" textLength="104.2" lengthAdjust="spacingAndGlyphs">used</text>
<text x="1876.6" y="2899.7" font-size="48" fill="#777" textLength="42.0" lengthAdjust="spacingAndGlyphs">to</text>
<text x="1932.8" y="2899.7" font-size="48" fill="#777" textLength="115.7" lengthAdjust="spacingAndGlyphs">make</text>
<text x="2061.5" y="2899.7" font-size="48" fill="#777" textLength="239.6" lengthAdjust="spacingAndGlyphs">meaningful</text>
<text x="2314.7" y="2899.7" font-size="48" fill="#777" textLength="272.1" lengthAdjust="spacingAndGlyphs">comparisons</text>
<text x="2600.0" y="2899.7" font-size="48" fill="#777" textLength="41.7" lengthAdjust="spacingAndGlyphs">of</text>
<text x="2655.6" y="2899.7" font-size="48" fill="#777" textLength="206.3" lengthAdjust="spacingAndGlyphs">monetary</text>
<text x="2875.6" y="2899.7" font-size="48" fill="#777" textLength="210.8" lengthAdjust="spacingAndGlyphs">indicators</text>
<text x="3100.1" y="2899.7" font-size="48" fill="#777" textLength="42.4" lengthAdjust="spacingAndGlyphs">of</text>
<text x="3156.6" y="2899.7" font-size="48" fill="#777" textLength="117.3" lengthAdjust="spacingAndGlyphs">living</text>
<text x="60.8" y="2959.1" font-size="48" fill="#777" textLength="223.3" lengthAdjust="spacingAndGlyphs">standards.</text>
<text x="59.8" y="3018.6" font-size="48" fill="#777" textLength="156.4" lengthAdjust="spacingAndGlyphs">Figures</text>
<text x="229.3" y="3018.6" font-size="48" fill="#777" textLength="218.3" lengthAdjust="spacingAndGlyphs">expressed</text>
<text x="460.7" y="3018.6" font-size="48" fill="#777" textLength="38.2" lengthAdjust="spacingAndGlyphs">in</text>
<text x="512.5" y="3018.6" font-size="48" fill="#777" textLength="186.7" lengthAdjust="spacingAndGlyphs">constant</text>
<text x="712.9" y="3018.6" font-size="48" fill="#777" textLength="274.1" lengthAdjust="spacingAndGlyphs">international</text>
<text x="1001.1" y="3018.6" font-size="48" fill="#777" textLength="142.4" lengthAdjust="spacingAndGlyphs">dollars</text>
<text x="1156.9" y="3018.6" font-size="48" fill="#777" textLength="66.8" lengthAdjust="spacingAndGlyphs">are</text>
<text x="1236.5" y="3018.6" font-size="48" fill="#777" textLength="186.1" lengthAdjust="spacingAndGlyphs">adjusted</text>
<text x="1436.3" y="3018.6" font-size="48" fill="#777" textLength="57.7" lengthAdjust="spacingAndGlyphs">for</text>
<text x="1507.6" y="3018.6" font-size="48" fill="#777" textLength="179.5" lengthAdjust="spacingAndGlyphs">inflation</text>
<text x="1701.5" y="3018.6" font-size="48" fill="#777" textLength="131.4" lengthAdjust="spacingAndGlyphs">within</text>
<text x="1847.2" y="3018.6" font-size="48" fill="#777" textLength="200.1" lengthAdjust="spacingAndGlyphs">countries</text>
<text x="2061.0" y="3018.6" font-size="48" fill="#777" textLength="96.2" lengthAdjust="spacingAndGlyphs">over</text>
<text x="2171.0" y="3018.6" font-size="48" fill="#777" textLength="105.4" lengthAdjust="spacingAndGlyphs">time,</text>
<text x="2290.0" y="3018.6" font-size="48" fill="#777" textLength="81.2" lengthAdjust="spacingAndGlyphs">and</text>
<text x="2384.7" y="3018.6" font-size="48" fill="#777" textLength="58.6" lengthAdjust="spacingAndGlyphs">for</text>
<text x="2457.2" y="3018.6" font-size="48" fill="#777" textLength="238.0" lengthAdjust="spacingAndGlyphs">differences</text>
<text x="2708.6" y="3018.6" font-size="48" fill="#777" textLength="40.1" lengthAdjust="spacingAndGlyphs">in</text>
<text x="2763.0" y="3018.6" font-size="48" fill="#777" textLength="68.9" lengthAdjust="spacingAndGlyphs">the</text>
<text x="2845.6" y="3018.6" font-size="48" fill="#777" textLength="89.5" lengthAdjust="spacingAndGlyphs">cost</text>
<text x="2948.7" y="3018.6" font-size="48" fill="#777" textLength="41.5" lengthAdjust="spacingAndGlyphs">of</text>
<text x="3003.9" y="3018.6" font-size="48" fill="#777" textLength="117.9" lengthAdjust="spacingAndGlyphs">living</text>
<text x="59.9" y="3078.0" font-size="48" fill="#777" textLength="188.6" lengthAdjust="spacingAndGlyphs">between</text>
<text x="262.4" y="3078.0" font-size="48" fill="#777" textLength="215.8" lengthAdjust="spacingAndGlyphs">countries.</text>
<text x="59.7" y="3137.4" font-size="48" fill="#777" textLength="81.3" lengthAdjust="spacingAndGlyphs">The</text>
<text x="154.1" y="3137.4" font-size="48" fill="#777" textLength="89.9" lengthAdjust="spacingAndGlyphs">goal</text>
<text x="257.0" y="3137.4" font-size="48" fill="#777" textLength="42.9" lengthAdjust="spacingAndGlyphs">of</text>
<text x="314.4" y="3137.4" font-size="48" fill="#777" textLength="98.9" lengthAdjust="spacingAndGlyphs">such</text>
<text x="426.3" y="3137.4" font-size="48" fill="#777" textLength="262.5" lengthAdjust="spacingAndGlyphs">adjustments</text>
<text x="702.3" y="3137.4" font-size="48" fill="#777" textLength="35.0" lengthAdjust="spacingAndGlyphs">is</text>
<text x="750.8" y="3137.4" font-size="48" fill="#777" textLength="42.2" lengthAdjust="spacingAndGlyphs">to</text>
<text x="807.1" y="3137.4" font-size="48" fill="#777" textLength="162.1" lengthAdjust="spacingAndGlyphs">provide</text>
<text x="983.1" y="3137.4" font-size="48" fill="#777" textLength="25.3" lengthAdjust="spacingAndGlyphs">a</text>
<text x="1020.7" y="3137.4" font-size="48" fill="#777" textLength="84.3" lengthAdjust="spacingAndGlyphs">unit</text>
<text x="1119.5" y="3137.4" font-size="48" fill="#777" textLength="138.3" lengthAdjust="spacingAndGlyphs">whose</text>
<text x="1271.0" y="3137.4" font-size="48" fill="#777" textLength="234.6" lengthAdjust="spacingAndGlyphs">purchasing</text>
<text x="1518.8" y="3137.4" font-size="48" fill="#777" textLength="136.6" lengthAdjust="spacingAndGlyphs">power</text>
<text x="1669.6" y="3137.4" font-size="48" fill="#777" textLength="31.9" lengthAdjust="spacingAndGlyphs">is</text>
<text x="1713.5" y="3137.4" font-size="48" fill="#777" textLength="94.8" lengthAdjust="spacingAndGlyphs">held</text>
<text x="1822.2" y="3137.4" font-size="48" fill="#777" textLength="103.5" lengthAdjust="spacingAndGlyphs">fixed</text>
<text x="1939.3" y="3137.4" font-size="48" fill="#777" textLength="96.2" lengthAdjust="spacingAndGlyphs">over</text>
<text x="2049.2" y="3137.4" font-size="48" fill="#777" textLength="94.1" lengthAdjust="spacingAndGlyphs">time</text>
<text x="2157.2" y="3137.4" font-size="48" fill="#777" textLength="80.1" lengthAdjust="spacingAndGlyphs">and</text>
<text x="2250.6" y="3137.4" font-size="48" fill="#777" textLength="136.2" lengthAdjust="spacingAndGlyphs">across</text>
<text x="2399.7" y="3137.4" font-size="48" fill="#777" textLength="210.9" lengthAdjust="spacingAndGlyphs">countries,</text>
<text x="2624.0" y="3137.4" font-size="48" fill="#777" textLength="101.3" lengthAdjust="spacingAndGlyphs">such</text>
<text x="2738.7" y="3137.4" font-size="48" fill="#777" textLength="84.8" lengthAdjust="spacingAndGlyphs">that</text>
<text x="2837.7" y="3137.4" font-size="48" fill="#777" textLength="80.0" lengthAdjust="spacingAndGlyphs">one</text>
<text x="2930.8" y="3137.4" font-size="48" fill="#777" textLength="278.1" lengthAdjust="spacingAndGlyphs">international</text>
<text x="59.8" y="3196.8" font-size="48" fill="#777" textLength="119.5" lengthAdjust="spacingAndGlyphs">dollar</text>
<text x="193.0" y="3196.8" font-size="48" fill="#777" textLength="74.7" lengthAdjust="spacingAndGlyphs">can</text>
<text x="280.4" y="3196.8" font-size="48" fill="#777" textLength="80.7" lengthAdjust="spacingAndGlyphs">buy</text>
<text x="375.0" y="3196.8" font-size="48" fill="#777" textLength="69.7" lengthAdjust="spacingAndGlyphs">the</text>
<text x="458.7" y="3196.8" font-size="48" fill="#777" textLength="112.1" lengthAdjust="spacingAndGlyphs">same</text>
<text x="583.3" y="3196.8" font-size="48" fill="#777" textLength="177.5" lengthAdjust="spacingAndGlyphs">quantity</text>
<text x="775.0" y="3196.8" font-size="48" fill="#777" textLength="79.7" lengthAdjust="spacingAndGlyphs">and</text>
<text x="867.9" y="3196.8" font-size="48" fill="#777" textLength="144.5" lengthAdjust="spacingAndGlyphs">quality</text>
<text x="1026.3" y="3196.8" font-size="48" fill="#777" textLength="42.2" lengthAdjust="spacingAndGlyphs">of</text>
<text x="1082.6" y="3196.8" font-size="48" fill="#777" textLength="129.7" lengthAdjust="spacingAndGlyphs">goods</text>
<text x="1225.5" y="3196.8" font-size="48" fill="#777" textLength="81.3" lengthAdjust="spacingAndGlyphs">and</text>
<text x="1320.4" y="3196.8" font-size="48" fill="#777" textLength="172.3" lengthAdjust="spacingAndGlyphs">services</text>
<text x="1505.6" y="3196.8" font-size="48" fill="#777" textLength="53.8" lengthAdjust="spacingAndGlyphs">no</text>
<text x="1572.8" y="3196.8" font-size="48" fill="#777" textLength="143.4" lengthAdjust="spacingAndGlyphs">matter</text>
<text x="1730.2" y="3196.8" font-size="48" fill="#777" textLength="132.4" lengthAdjust="spacingAndGlyphs">where</text>
<text x="1876.0" y="3196.8" font-size="48" fill="#777" textLength="45.1" lengthAdjust="spacingAndGlyphs">or</text>
<text x="1935.2" y="3196.8" font-size="48" fill="#777" textLength="116.6" lengthAdjust="spacingAndGlyphs">when</text>
<text x="2065.1" y="3196.8" font-size="48" fill="#777" textLength="26.5" lengthAdjust="spacingAndGlyphs">it</text>
<text x="2106.6" y="3196.8" font-size="48" fill="#777" textLength="35.0" lengthAdjust="spacingAndGlyphs">is</text>
<text x="2155.0" y="3196.8" font-size="48" fill="#777" textLength="133.6" lengthAdjust="spacingAndGlyphs">spent.</text>
<text x="60.0" y="3256.3" font-size="48" fill="#777" textLength="107.3" lengthAdjust="spacingAndGlyphs">Read</text>
<text x="179.6" y="3256.3" font-size="48" fill="#777" textLength="111.7" lengthAdjust="spacingAndGlyphs">more</text>
<text x="304.9" y="3256.3" font-size="48" fill="#777" textLength="38.2" lengthAdjust="spacingAndGlyphs">in</text>
<text x="356.7" y="3256.3" font-size="48" fill="#777" textLength="71.3" lengthAdjust="spacingAndGlyphs">our</text>
<text x="441.7" y="3256.3" font-size="48" fill="#777" textLength="150.8" lengthAdjust="spacingAndGlyphs">article:</text>
<text x="602.1" y="3256.3" font-size="48" fill="#777" textLength="118.0" lengthAdjust="spacingAndGlyphs">What</text>
<text x="734.3" y="3256.3" font-size="48" fill="#777" textLength="67.6" lengthAdjust="spacingAndGlyphs">are</text>
<text x="814.7" y="3256.3" font-size="48" fill="#777" textLength="275.0" lengthAdjust="spacingAndGlyphs">international</text>
<text x="1103.8" y="3256.3" font-size="48" fill="#777" textLength="165.2" lengthAdjust="spacingAndGlyphs">dollars?</text>
<rect x="602" y="3259.9" width="665.3" height="3.5" fill="#777"/>
</svg>
</body></html>
